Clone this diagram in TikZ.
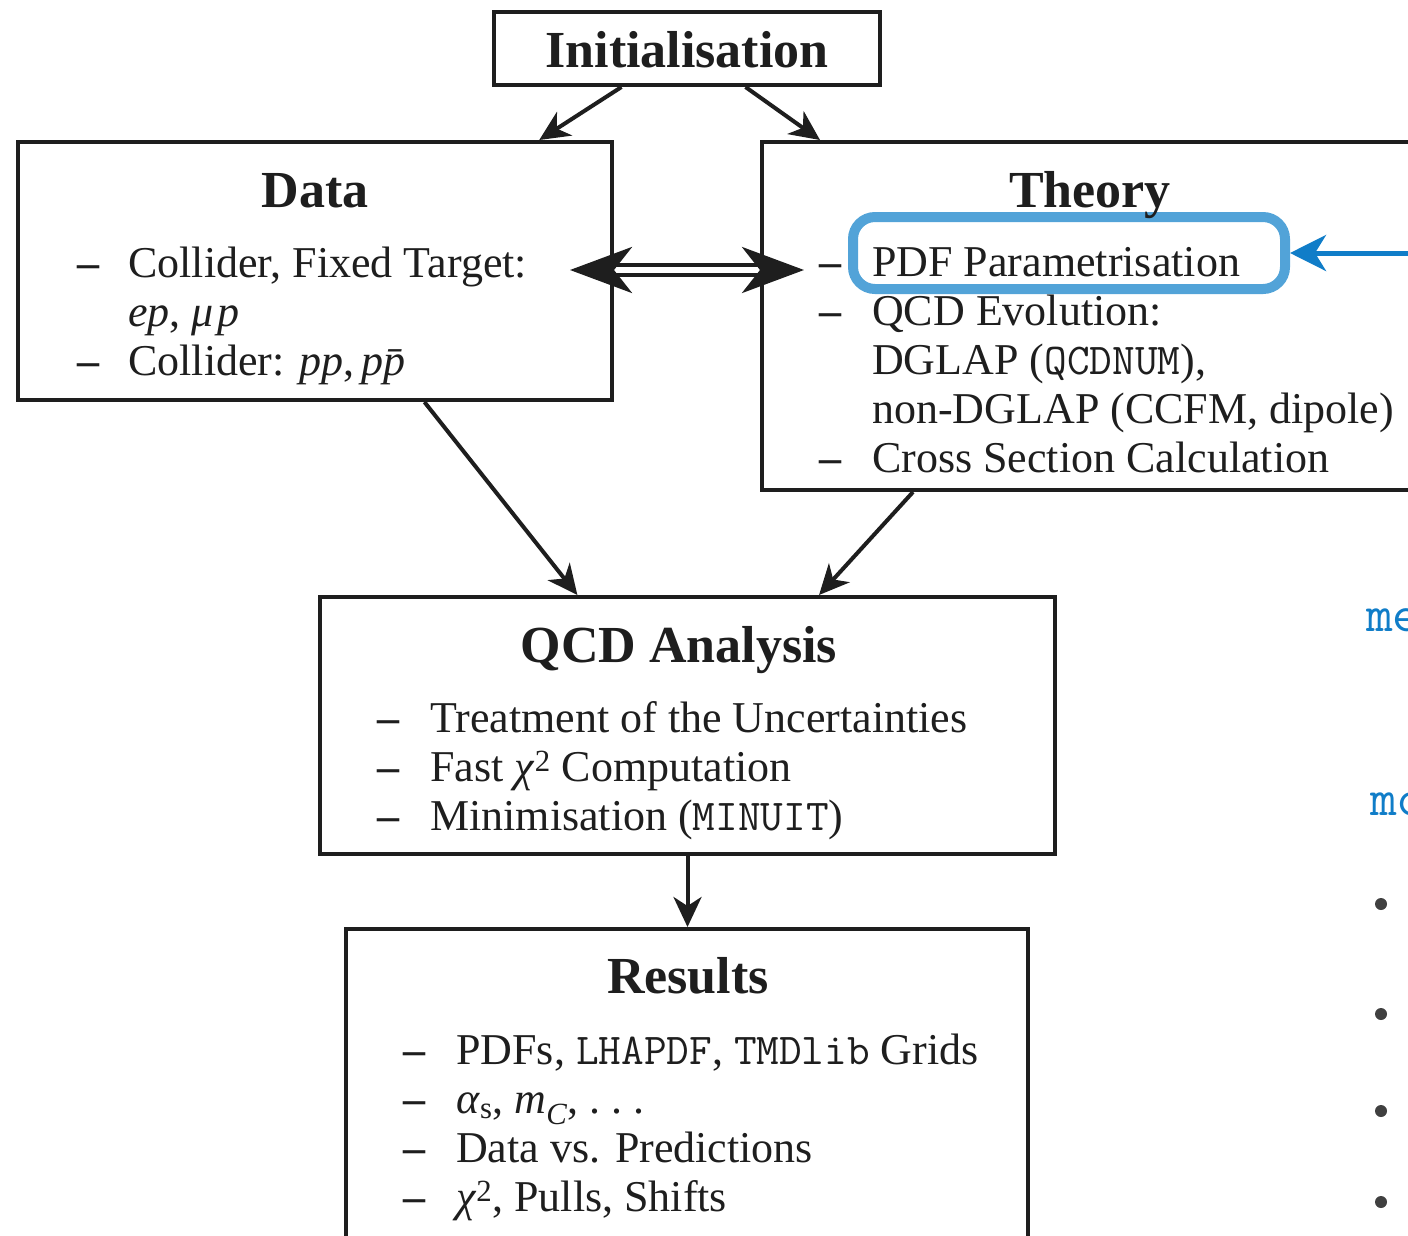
\documentclass[tikz,border=0pt]{standalone}
\usepackage{fontspec}
\setmainfont{Liberation Serif}
\usetikzlibrary{arrows.meta,calc}
\definecolor{bluebox}{RGB}{82,163,216}
\definecolor{bluearrow}{RGB}{16,125,200}
\definecolor{bulletgray}{RGB}{64,64,64}
\definecolor{ink}{RGB}{30,30,30}
\tikzset{
  box/.style={draw=ink, line width=4pt, inner sep=0pt},
  ttl/.style={anchor=base, inner sep=0pt, text=ink, font=\fontsize{52}{60}\selectfont\bfseries},
  itm/.style={anchor=base west, inner sep=0pt, text=ink, font=\fontsize{44}{49}\selectfont},
  dsh/.style={anchor=base west, inner sep=0pt, text=ink, font=\fontsize{44}{49}\selectfont\bfseries},
  arr/.style={draw=ink, line width=4pt, -{Stealth[length=30pt,width=28pt,inset=9pt]}},
  bul/.style={circle, fill=bulletgray, minimum size=12pt, inner sep=0pt},
  bluetxt/.style={anchor=base west, inner sep=0pt, text=bluearrow, font=\ttfamily\fontsize{52}{54}\selectfont},
}
\newcommand{\mydots}{.\kern0.25em.\kern0.25em.}
\begin{document}
\begin{tikzpicture}[x=1pt,y=-1pt]
\useasboundingbox (0,0) rectangle (1408,1235);
\clip (0,0) rectangle (1408,1235);

% boxes
\node[box, minimum width=386pt, minimum height=73pt] (init) at (687,48.5) {};
\node[box, minimum width=594pt, minimum height=258pt] (data) at (315,271) {};
\node[box, minimum width=738pt, minimum height=348pt] (theory) at (1131,316) {};
\node[box, minimum width=735pt, minimum height=257pt] (qcd) at (687.5,725.5) {};
\node[box, minimum width=682pt, minimum height=371pt] (results) at (687,1114.5) {};

% blue highlight
\node[draw=bluebox, line width=10pt, rounded corners=22pt, minimum width=432pt, minimum height=72pt, inner sep=0pt] (pdfbox) at (1069,253) {};

% titles
\node[ttl] (tinit) at (687,67) {Initialisation};
\node[ttl] (tdata) at (315,207) {Data};
\node[ttl] (ttheory) at (1090,207) {Theory};
\node[ttl] (tqcd) at (679,662) {QCD Analysis};
\node[ttl] (tres) at (688,993) {Results};

% data items
\node[dsh] (dd1) at (77,277) {–};
\node[itm] (d1) at (128,277) {Collider, Fixed Target:};
\node[itm] (d2) at (128,326) {\textit{ep}, \textit{μ\kern0.08em p}};
\node[dsh] (dd3) at (77,375) {–};
\node[itm] (d3) at (128,375) {Collider: \textit{pp},\,\textit{p\=p}};

% theory items
\node[dsh] (td1) at (819,276) {–};
\node[itm] (t1) at (872,276) {PDF Parametrisation};
\node[dsh] (td2) at (819,325) {–};
\node[itm] (t2) at (872,325) {QCD Evolution:};
\node[itm] (t3) at (872,374) {DGLAP (\texttt{QCDNUM}),};
\node[itm] (t4) at (872,423) {non-DGLAP (CCFM, dipole)};
\node[dsh] (td5) at (819,472) {–};
\node[itm] (t5) at (872,472) {Cross Section Calculation};

% qcd items
\node[dsh] (qd1) at (377,732) {–};
\node[itm] (q1) at (430,732) {Treatment of the Uncertainties};
\node[dsh] (qd2) at (377,781) {–};
\node[itm] (q2) at (430,781) {Fast \textit{χ}\textsuperscript{2} Computation};
\node[dsh] (qd3) at (377,830) {–};
\node[itm] (q3) at (430,830) {Minimisation (\texttt{MINUIT})};

% results items
\node[dsh] (rd1) at (403,1064) {–};
\node[itm] (r1) at (456,1064) {PDFs, \texttt{LHAPDF}, \texttt{TMDlib} Grids};
\node[dsh] (rd2) at (403,1113) {–};
\node[itm] (r2) at (456,1113) {\textit{α}\textsubscript{s}, \textit{m}\textsubscript{\textit{C}}, \mydots};
\node[dsh] (rd3) at (403,1162) {–};
\node[itm] (r3) at (456,1162) {Data vs. Predictions};
\node[dsh] (rd4) at (403,1211) {–};
\node[itm] (r4) at (456,1211) {\textit{χ}\textsuperscript{2}, Pulls, Shifts};

% connectors
\draw[arr] ($(init.south west)!0.332!(init.south east)$) -- ($(data.north west)!0.875!(data.north east)$);
\draw[arr] ($(init.south west)!0.650!(init.south east)$) -- ([xshift=60pt]theory.north west);
\draw[arr] ($(data.south west)!0.683!(data.south east)$) -- ($(qcd.north west)!0.351!(qcd.north east)$);
\draw[arr] ([xshift=153pt]theory.south west) -- ($(qcd.north west)!0.678!(qcd.north east)$);
\draw[arr] (qcd.south) -- (qcd.south |- results.north);

% double arrow data <-> theory
\path (data.east) ++(-44,-1) coordinate (dl);
\path (theory.west |- data.east) ++(44,-1) coordinate (dr);
\draw[draw=ink, line width=4.5pt, double=white, double distance=5.5pt,
  {Stealth[length=62pt,width=46pt,inset=18pt]}-{Stealth[length=62pt,width=46pt,inset=18pt]}] (dl) -- (dr);

% blue arrow
\coordinate (bstart) at (1420,253);
\draw[draw=bluearrow, line width=5pt, -{Stealth[length=36pt,width=36pt,inset=11pt]}] (bstart) -- (pdfbox.east);

% right side fragments
\node[bluetxt] (me1) at (1366,631) {me};
\node[bluetxt] (me2) at (1370,815) {mc};
\node[bul] (b1) at (1381,904) {};
\node[bul] (b2) at (1381,1014) {};
\node[bul] (b3) at (1381,1111) {};
\node[bul] (b4) at (1381,1202) {};
\end{tikzpicture}
\end{document}
